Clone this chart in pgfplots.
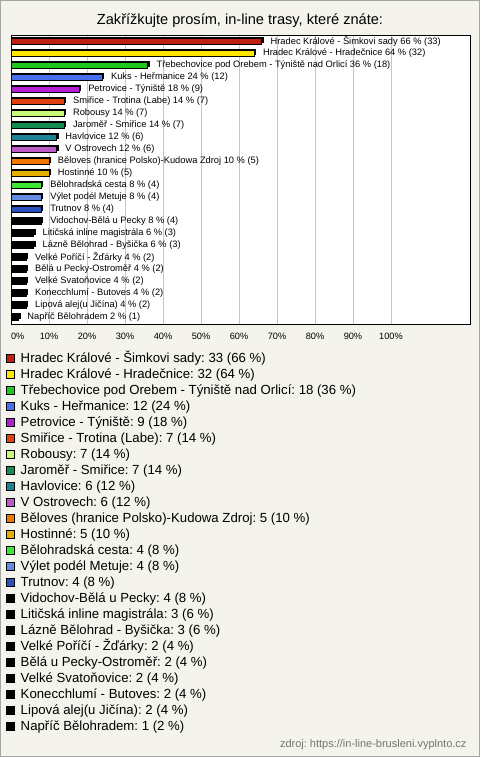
\documentclass[border=0pt]{standalone}
\usepackage{fontspec}
\setmainfont{Liberation Sans}
\usepackage{pgfplots}
\pgfplotsset{compat=1.18}
\frenchspacing
\definecolor{bgc}{RGB}{244,244,236}
\definecolor{c1}{RGB}{192,32,18}
\definecolor{c2}{RGB}{255,230,0}
\definecolor{c3}{RGB}{30,200,30}
\definecolor{c4}{RGB}{72,112,238}
\definecolor{c5}{RGB}{180,30,210}
\definecolor{c6}{RGB}{225,65,15}
\definecolor{c7}{RGB}{200,250,120}
\definecolor{c8}{RGB}{20,140,80}
\definecolor{c9}{RGB}{30,130,150}
\definecolor{c10}{RGB}{190,90,200}
\definecolor{c11}{RGB}{240,120,0}
\definecolor{c12}{RGB}{230,175,0}
\definecolor{c13}{RGB}{60,230,50}
\definecolor{c14}{RGB}{100,140,225}
\definecolor{c15}{RGB}{40,80,190}
\definecolor{c16}{RGB}{0,0,0}
\newcommand{\bb}[5]{%
  \addplot[forget plot, fill=black, draw=black, line width=0.8pt, xshift=1.5pt, yshift=1.5pt] coordinates {(#2,#3)};
  \addplot[mainbar, fill=#1] coordinates {(#2,#3) [#4]};
  \addlegendentry{#5}
}
\begin{document}
\begin{tikzpicture}
\fill[bgc] (0pt,0pt) rectangle (480pt,757pt);
\draw[gray!70, line width=1pt] (0.5pt,0.5pt) rectangle (479.5pt,756.5pt);
\node[font=\fontsize{14.6}{17}\selectfont] at (240pt,736pt) {Zakřížkujte prosím, in-line trasy, které znáte:};
\node[anchor=east, text=gray!90!black, font=\fontsize{11}{13}\selectfont] at (470pt,12pt) {zdroj: https://in-line-brusleni.vyplnto.cz};
\begin{axis}[
  at={(11pt,433pt)}, anchor=south west,
  scale only axis, width=459pt, height=288.5pt,
  xbar, bar shift=0pt, bar width=5.5pt,
  xmin=0, xmax=120.8,
  ymin=-0.48, ymax=23.55, y dir=reverse,
  ytick=\empty,
  xtick={0,10,...,100},
  xticklabel={\pgfmathparse{\tick==0}\ifnum\pgfmathresult=1 \makebox[0pt][l]{0\%}\else\pgfmathprintnumber{\tick}\%\fi},
  /pgf/number format/assume math mode=true,
  xticklabel style={font=\fontsize{9.2}{11}\selectfont, yshift=-6pt},
  major tick length=0pt,
  xmajorgrids, major grid style={draw=black!22, line width=0.9pt},
  axis line style={line width=1pt},
  axis background/.style={fill=white},
  clip=false,
  mainbar/.style={draw=black, line width=0.8pt,
    point meta=explicit symbolic, nodes near coords,
    every node near coord/.style={anchor=west, inner sep=0pt, xshift=8.5pt, font=\fontsize{9.3}{11}\selectfont, text=black},
    legend image code/.code={\draw[##1, line width=0.6pt] (0pt,-4pt) rectangle (8pt,4pt);}},
  legend cell align=left,
  legend style={at={(-0.011,-0.097)}, anchor=north west, draw=none, fill=none,
    inner sep=0pt, font=\fontsize{13.2}{15}\selectfont,
    nodes={inner sep=0pt, text height=10pt, text depth=3pt},
    row sep=3pt, column sep=6pt},
]
\bb{c1}{66}{0}{Hradec Králové - Šimkovi sady 66 \% (33)}{Hradec Králové - Šimkovi sady: 33 (66 \%)}
\bb{c2}{64}{1}{Hradec Králové - Hradečnice 64 \% (32)}{Hradec Králové - Hradečnice: 32 (64 \%)}
\bb{c3}{36}{2}{Třebechovice pod Orebem - Týniště nad Orlicí 36 \% (18)}{Třebechovice pod Orebem - Týniště nad Orlicí: 18 (36 \%)}
\bb{c4}{24}{3}{Kuks - Heřmanice 24 \% (12)}{Kuks - Heřmanice: 12 (24 \%)}
\bb{c5}{18}{4}{Petrovice - Týniště 18 \% (9)}{Petrovice - Týniště: 9 (18 \%)}
\bb{c6}{14}{5}{Smiřice - Trotina (Labe) 14 \% (7)}{Smiřice - Trotina (Labe): 7 (14 \%)}
\bb{c7}{14}{6}{Robousy 14 \% (7)}{Robousy: 7 (14 \%)}
\bb{c8}{14}{7}{Jaroměř - Smiřice 14 \% (7)}{Jaroměř - Smiřice: 7 (14 \%)}
\bb{c9}{12}{8}{Havlovice 12 \% (6)}{Havlovice: 6 (12 \%)}
\bb{c10}{12}{9}{V Ostrovech 12 \% (6)}{V Ostrovech: 6 (12 \%)}
\bb{c11}{10}{10}{Běloves (hranice Polsko)-Kudowa Zdroj 10 \% (5)}{Běloves (hranice Polsko)-Kudowa Zdroj: 5 (10 \%)}
\bb{c12}{10}{11}{Hostinné 10 \% (5)}{Hostinné: 5 (10 \%)}
\bb{c13}{8}{12}{Bělohradská cesta 8 \% (4)}{Bělohradská cesta: 4 (8 \%)}
\bb{c14}{8}{13}{Výlet podél Metuje 8 \% (4)}{Výlet podél Metuje: 4 (8 \%)}
\bb{c15}{8}{14}{Trutnov 8 \% (4)}{Trutnov: 4 (8 \%)}
\bb{c16}{8}{15}{Vidochov-Bělá u Pecky 8 \% (4)}{Vidochov-Bělá u Pecky: 4 (8 \%)}
\bb{c16}{6}{16}{Litičská inline magistrála 6 \% (3)}{Litičská inline magistrála: 3 (6 \%)}
\bb{c16}{6}{17}{Lázně Bělohrad - Byšička 6 \% (3)}{Lázně Bělohrad - Byšička: 3 (6 \%)}
\bb{c16}{4}{18}{Velké Poříčí - Žďárky 4 \% (2)}{Velké Poříčí - Žďárky: 2 (4 \%)}
\bb{c16}{4}{19}{Bělá u Pecky-Ostroměř 4 \% (2)}{Bělá u Pecky-Ostroměř: 2 (4 \%)}
\bb{c16}{4}{20}{Velké Svatoňovice 4 \% (2)}{Velké Svatoňovice: 2 (4 \%)}
\bb{c16}{4}{21}{Konecchlumí - Butoves 4 \% (2)}{Konecchlumí - Butoves: 2 (4 \%)}
\bb{c16}{4}{22}{Lipová alej(u Jičína) 4 \% (2)}{Lipová alej(u Jičína): 2 (4 \%)}
\bb{c16}{2}{23}{Napříč Bělohradem 2 \% (1)}{Napříč Bělohradem: 1 (2 \%)}
\end{axis}
\pgfresetboundingbox
\path[use as bounding box] (0pt,0pt) rectangle (480pt,757pt);
\end{tikzpicture}
\end{document}
